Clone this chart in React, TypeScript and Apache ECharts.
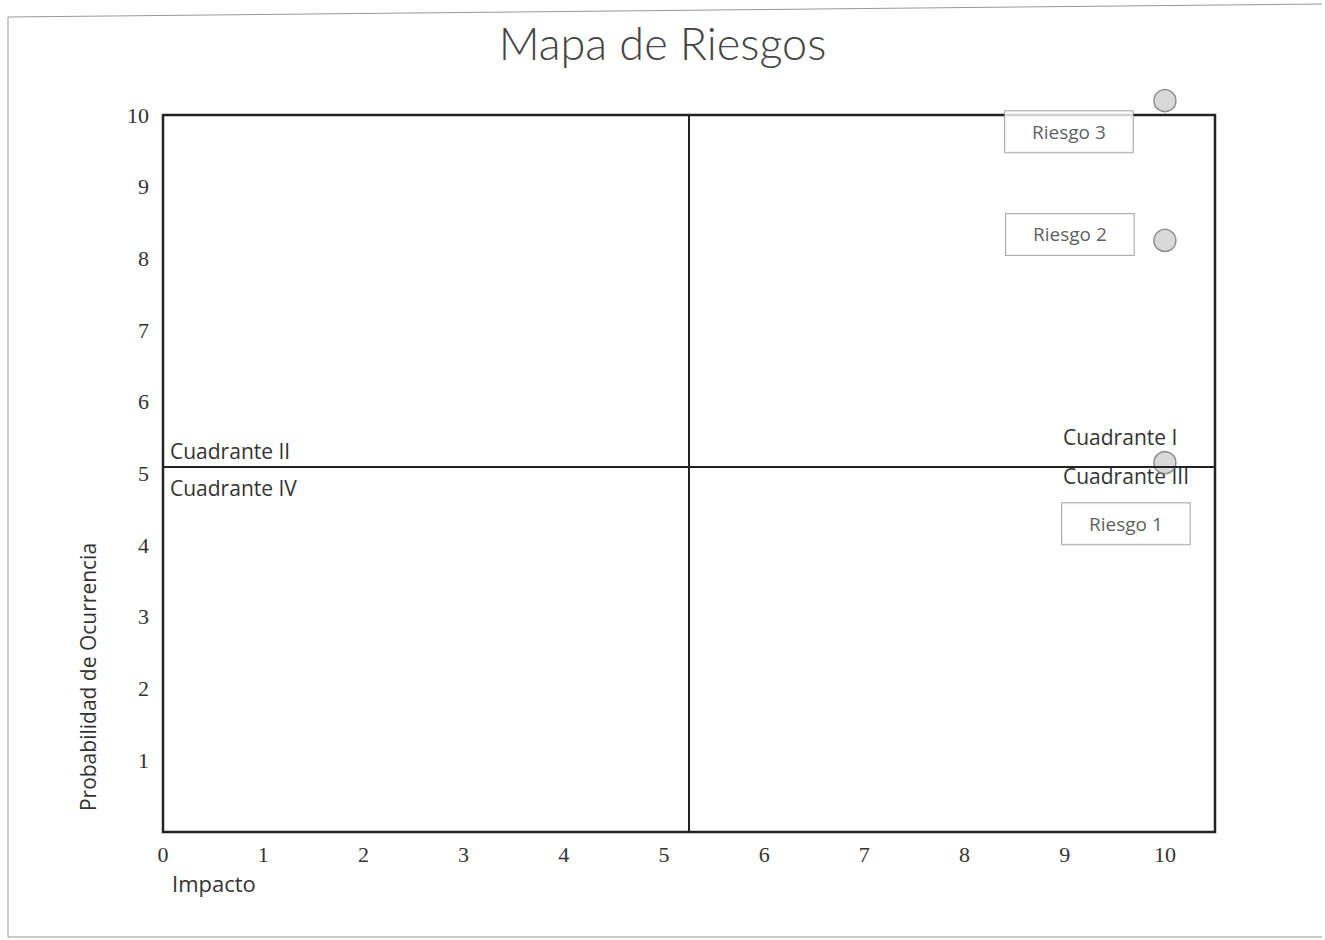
import React, { useEffect, useRef } from "react";
import * as echarts from "echarts";

const riskNames = ["Riesgo 1", "Riesgo 2", "Riesgo 3"];
const impactValues = [10, 10, 10];
const probabilityValues = [5.15, 8.25, 10.2];
const labelOffsets: [number, number][] = [[-39, 61], [-95, -6], [-96, 31]];
const xTicks = [0, 1, 2, 3, 4, 5, 6, 7, 8, 9, 10];
const yTicks = [1, 2, 3, 4, 5, 6, 7, 8, 9, 10];
const quadrantX = 5.25;
const quadrantY = 5.1;

export default function App() {
  const ref = useRef<HTMLDivElement>(null);
  useEffect(() => {
    if (!ref.current) return;
    const chart = echarts.init(ref.current, null, { renderer: "svg" });
    const sans = "'Open Sans', Lato, sans-serif";
    const serif = "'Liberation Serif', 'DejaVu Serif', serif";
    chart.setOption({
      animation: false,
      backgroundColor: "#ffffff",
      title: {
        text: "Mapa de Riesgos",
        left: "center",
        top: 15,
        textStyle: { fontFamily: "Lato, sans-serif", fontSize: 45, fontWeight: 300, color: "#444" },
      },
      grid: { left: 163, right: 110, top: 115, bottom: 108, show: true, borderColor: "#222", borderWidth: 2.5, backgroundColor: "transparent" },
      xAxis: {
        type: "value",
        min: 0,
        max: 10.5,
        interval: 1,
        axisLine: { show: false },
        axisTick: { show: false },
        splitLine: { show: false },
        axisLabel: {
          margin: 11,
          fontFamily: serif,
          fontSize: 22,
          color: "#333",
          showMaxLabel: false,
          formatter: (v: number) => (xTicks.includes(v) ? String(v) : ""),
        },
      },
      yAxis: {
        type: "value",
        min: 0,
        max: 10,
        interval: 1,
        axisLine: { show: false },
        axisTick: { show: false },
        splitLine: { show: false },
        axisLabel: {
          margin: 14,
          fontFamily: serif,
          fontSize: 22,
          color: "#333",
          formatter: (v: number) => (yTicks.includes(v) ? String(v) : ""),
        },
      },
      series: [
        {
          type: "scatter",
          clip: false,
          symbol: "circle",
          symbolSize: 22,
          itemStyle: { color: "#d0d0d0", borderColor: "#777", borderWidth: 1.5 },
          data: riskNames.map((n, i) => ({
            name: n,
            value: [impactValues[i], probabilityValues[i]],
            label: {
              show: true,
              position: "inside",
              offset: labelOffsets[i],
              formatter: n,
              fontFamily: sans,
              fontSize: 19,
              color: "#333",
              borderColor: "#999",
              borderWidth: 1,
              padding: [11, 27],
              backgroundColor: "#fff",
            },
          })),
          markLine: {
            silent: true,
            symbol: "none",
            label: { show: false },
            lineStyle: { color: "#222", width: 2, type: "solid" },
            data: [{ xAxis: quadrantX }, { yAxis: quadrantY }],
          },
        },
      ],
      graphic: [
        { type: "text", left: 170, top: 440, style: { text: "Cuadrante II", font: `21px ${sans}`, fill: "#333" } },
        { type: "text", left: 170, top: 477, style: { text: "Cuadrante IV", font: `21px ${sans}`, fill: "#333" } },
        { type: "text", left: 1063, top: 426, style: { text: "Cuadrante I", font: `21px ${sans}`, fill: "#333" } },
        { type: "text", left: 1063, top: 465, style: { text: "Cuadrante III", font: `21px ${sans}`, fill: "#333" } },
        { type: "text", left: 172, top: 872, style: { text: "Impacto", font: `22px ${sans}`, fill: "#333" } },
        {
          type: "text",
          x: 88,
          y: 677,
          rotation: Math.PI / 2,
          style: { text: "Probabilidad de Ocurrencia", font: `21px ${sans}`, fill: "#333", textAlign: "center", textVerticalAlign: "middle" },
        },
        { type: "line", shape: { x1: 8, y1: 17, x2: 1322, y2: 4 }, style: { stroke: "#999", lineWidth: 1 } },
        { type: "line", shape: { x1: 8, y1: 17, x2: 8, y2: 937 }, style: { stroke: "#999", lineWidth: 1 } },
        { type: "line", shape: { x1: 8, y1: 937, x2: 1322, y2: 937 }, style: { stroke: "#999", lineWidth: 1 } },
      ],
    });
    return () => chart.dispose();
  }, []);
  return <div ref={ref} style={{ position: "absolute", left: 0, top: 0, width: 1325, height: 940 }} />;
}
